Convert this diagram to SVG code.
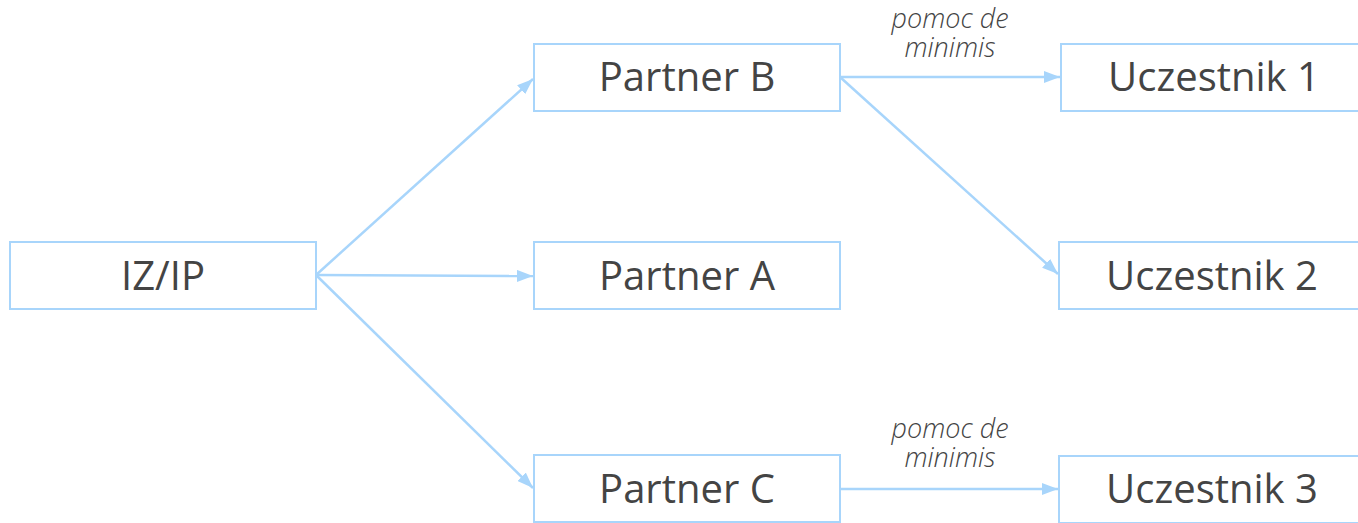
<svg xmlns="http://www.w3.org/2000/svg" width="1358" height="523" viewBox="0 0 1358 523">
<style>
.box{fill:#fff;stroke:#a8d5fb;stroke-width:2}
.t{font-family:"Open Sans","Liberation Sans",sans-serif;font-size:40px;fill:#444;text-anchor:middle}
.lbl{font-family:"Open Sans","Liberation Sans",sans-serif;font-size:27px;font-style:italic;font-weight:300;fill:#444;text-anchor:middle}
.e{stroke:#a8d5fb;stroke-width:2.5;fill:none;marker-end:url(#ah)}
</style>
<defs>
<marker id="ah" viewBox="0 0 16 12" refX="16" refY="6" markerWidth="16" markerHeight="12" markerUnits="userSpaceOnUse" orient="auto">
<path d="M0,0 L16,6 L0,12 z" fill="#a8d5fb"/>
</marker>
</defs>
<rect width="1358" height="523" fill="#fff"/>
<g id="connectors">
<line class="e" x1="316" y1="275" x2="533" y2="79"/>
<line class="e" x1="316" y1="275" x2="533" y2="276"/>
<line class="e" x1="316" y1="275" x2="533" y2="488"/>
<line class="e" x1="840" y1="77" x2="1060" y2="77"/>
<line class="e" x1="840" y1="77" x2="1058" y2="274"/>
<line class="e" x1="840" y1="489" x2="1058" y2="489"/>
<text class="lbl" x="950" y="28">pomoc de</text>
<text class="lbl" x="950" y="57">minimis</text>
<text class="lbl" x="950" y="438">pomoc de</text>
<text class="lbl" x="950" y="467">minimis</text>
</g>
<g id="izip"><rect class="box" x="10" y="242" width="306" height="67"/><text class="t" x="163" y="290">IZ/IP</text></g>
<g id="partnerB"><rect class="box" x="534" y="44" width="306" height="67"/><text class="t" x="687" y="91">Partner B</text></g>
<g id="partnerA"><rect class="box" x="534" y="242" width="306" height="67"/><text class="t" x="687" y="290">Partner A</text></g>
<g id="partnerC"><rect class="box" x="534" y="455" width="306" height="67"/><text class="t" x="687" y="503">Partner C</text></g>
<g id="uczestnik1"><rect class="box" x="1061" y="44" width="306" height="67"/><text class="t" x="1214" y="91">Uczestnik 1</text></g>
<g id="uczestnik2"><rect class="box" x="1059" y="242" width="306" height="67"/><text class="t" x="1212" y="290">Uczestnik 2</text></g>
<g id="uczestnik3"><rect class="box" x="1059" y="456" width="306" height="67"/><text class="t" x="1212" y="503">Uczestnik 3</text></g>
</svg>
